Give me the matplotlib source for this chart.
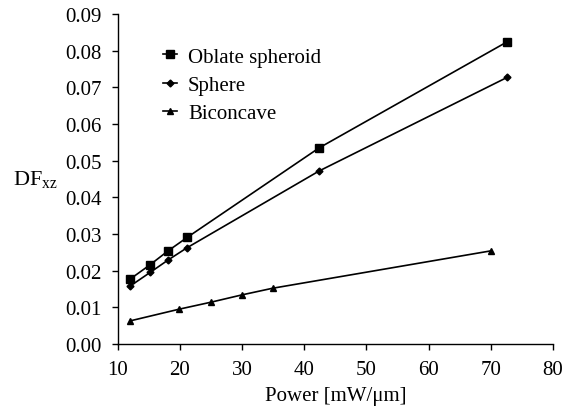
import matplotlib
matplotlib.use('Agg')
import matplotlib.pyplot as plt

# DF_xz versus laser power for three cell shapes
oblate_power = [12, 15.2, 18.1, 21.2, 42.4, 72.6]
oblate_df = [0.0177, 0.0216, 0.0254, 0.0291, 0.0535, 0.0824]

sphere_power = [12, 15.2, 18.1, 21.2, 42.4, 72.6]
sphere_df = [0.0158, 0.0195, 0.0229, 0.0263, 0.0472, 0.0727]

bicon_power = [12, 19.9, 25.0, 30.0, 34.9, 70.0]
bicon_df = [0.0063, 0.0095, 0.0114, 0.0134, 0.0152, 0.0254]

x_ticks = [10, 20, 30, 40, 50, 60, 70, 80]
y_ticks = [0.00, 0.01, 0.02, 0.03, 0.04, 0.05, 0.06, 0.07, 0.08, 0.09]

plt.rcParams['font.family'] = ['Liberation Serif', 'DejaVu Serif']
plt.rcParams['font.size'] = 15

fig = plt.figure(figsize=(5.65, 4.14), dpi=100)
ax = fig.add_axes([0.2083, 0.1667, 0.7705, 0.797])

ax.plot(oblate_power, oblate_df, color='black', lw=1.2, marker='s', ms=5.5,
        label='Oblate spheroid')
ax.plot(sphere_power, sphere_df, color='black', lw=1.2, marker='D', ms=3.5,
        label='Sphere')
ax.plot(bicon_power, bicon_df, color='black', lw=1.2, marker='^', ms=5,
        label='Biconcave')

ax.set_xlim(10, 80)
ax.set_ylim(0, 0.09)
ax.set_xticks(x_ticks)
ax.set_yticks(y_ticks)
ax.set_yticklabels([f'{v:.2f}' for v in y_ticks])
ax.tick_params(direction='out', length=4.5, width=1, pad=7, labelsize=15)

for side in ['top', 'right']:
    ax.spines[side].set_visible(False)
for side in ['left', 'bottom']:
    ax.spines[side].set_linewidth(1)

ax.set_xlabel('Power [mW/\u03bcm]', fontsize=15, labelpad=5)
ax.set_ylabel('DF$_{\\mathregular{xz}}$', fontsize=16, rotation=0,
              va='center', ha='center')
ax.yaxis.set_label_coords(-0.19, 0.5)

ax.legend(loc='upper left', bbox_to_anchor=(0.104, 0.90), frameon=False,
          handlelength=0.65, handletextpad=0.55, labelspacing=0.42,
          fontsize=15, borderaxespad=0, borderpad=0)

fig.savefig('out.png', dpi=100)
